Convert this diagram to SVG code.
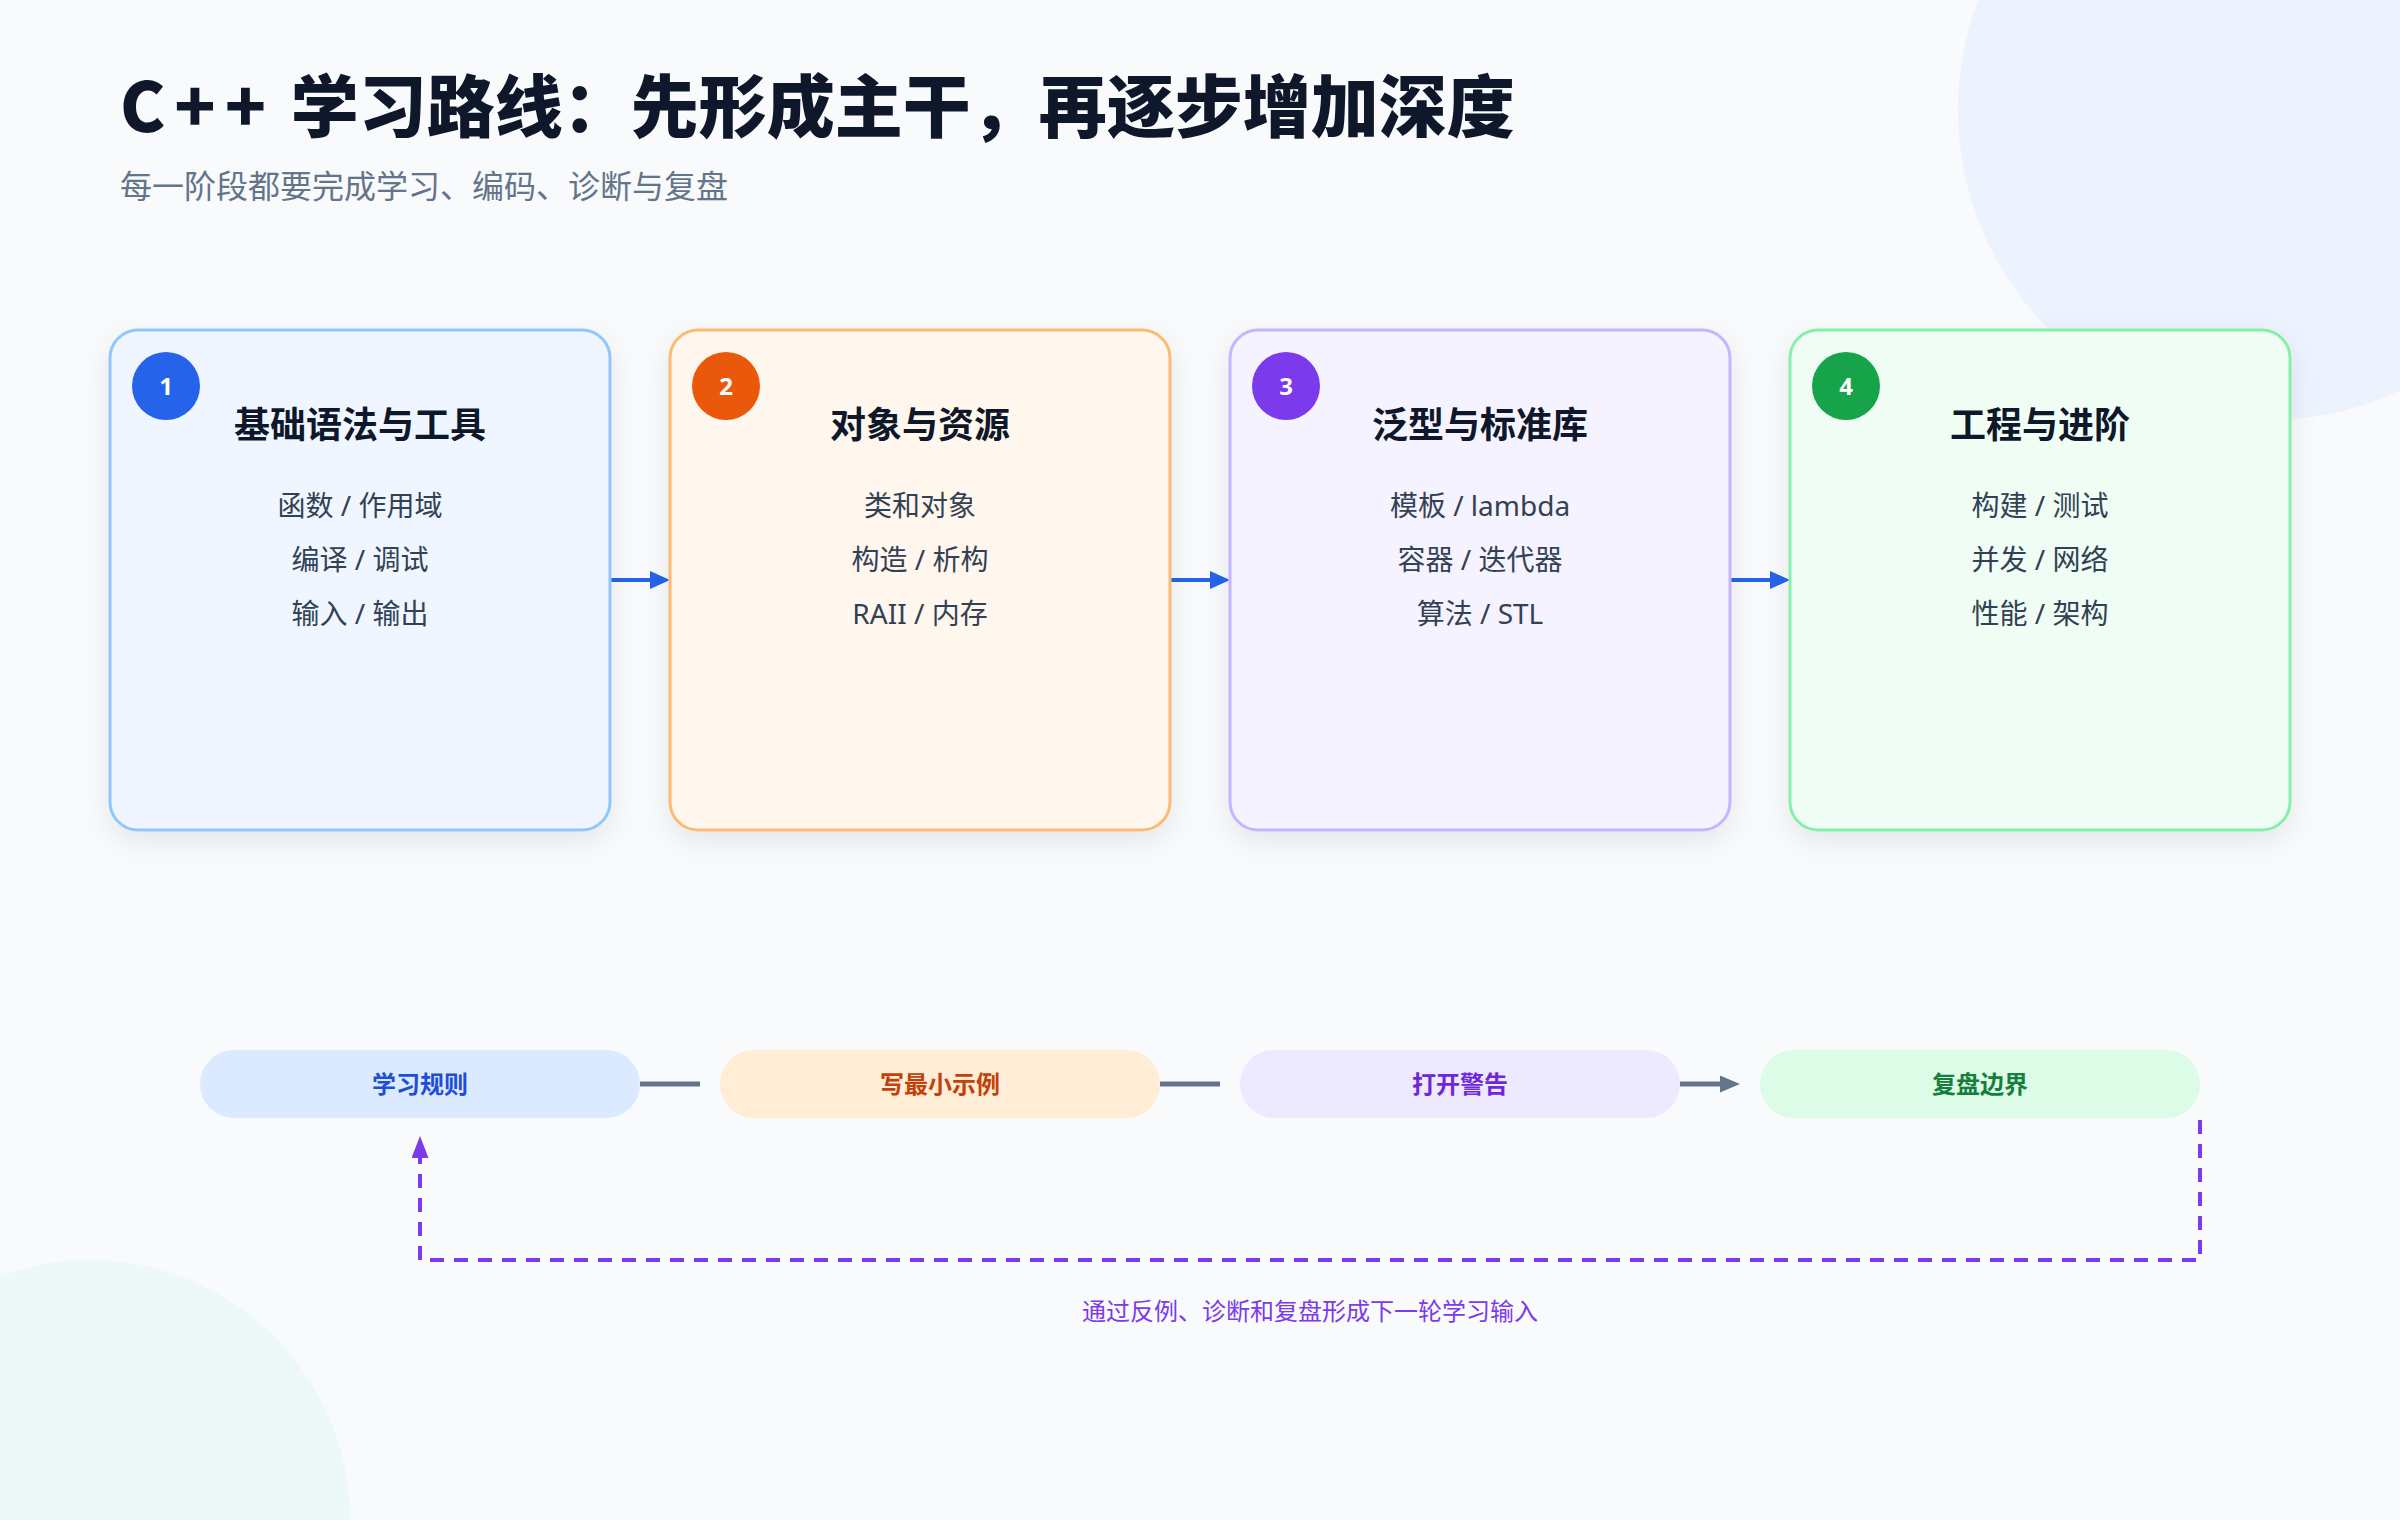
<svg xmlns="http://www.w3.org/2000/svg" width="2400" height="1520" viewBox="0 0 2400 1520">
  <defs>
    <style>
      text { font-family: "Noto Sans", "Noto Sans CJK SC", sans-serif; }
      .title { font-family: "Noto Sans CJK SC", "Noto Sans", sans-serif; font-size: 68px; font-weight: 900; fill: #0f172a; }
      .subtitle { font-size: 32px; fill: #64748b; }
      .card { stroke-width: 3; filter: url(#shadow); }
      .ctitle { font-size: 36px; font-weight: 700; fill: #0f172a; text-anchor: middle; }
      .cbody { font-size: 28px; fill: #334155; text-anchor: middle; }
      .badge-num { font-size: 24px; font-weight: 700; fill: #ffffff; text-anchor: middle; }
      .pill-text { font-size: 24px; font-weight: 700; text-anchor: middle; }
      .flow { stroke: #2563eb; stroke-width: 4; fill: none; }
      .link { stroke: #64748b; stroke-width: 5; fill: none; }
      .loop { stroke: #7c3aed; stroke-width: 4; fill: none; stroke-dasharray: 14 10; }
      .loop-label { font-size: 24px; fill: #7c3aed; text-anchor: middle; }
    </style>
    <filter id="shadow" x="-20%" y="-20%" width="140%" height="140%">
      <feDropShadow dx="0" dy="10" stdDeviation="14" flood-color="#0f172a" flood-opacity="0.08"/>
    </filter>
    <marker id="arrow-blue" markerUnits="userSpaceOnUse" markerWidth="20" markerHeight="18" refX="10" refY="9" orient="auto">
      <path d="M0,0 L20,9 L0,18 Z" fill="#2563eb"/>
    </marker>
    <marker id="arrow-gray" markerUnits="userSpaceOnUse" markerWidth="20" markerHeight="17" refX="10" refY="8.5" orient="auto">
      <path d="M0,0 L20,8.5 L0,17 Z" fill="#64748b"/>
    </marker>
    <marker id="arrow-purple" markerUnits="userSpaceOnUse" markerWidth="22" markerHeight="17" refX="10" refY="8.5" orient="auto">
      <path d="M0,0 L22,8.5 L0,17 Z" fill="#7c3aed"/>
    </marker>
  </defs>

  <!-- background -->
  <rect x="0" y="0" width="2400" height="1520" fill="#f8fafc"/>
  <circle cx="2268" cy="110" r="310" fill="#ecf3fe"/>
  <circle cx="90" cy="1520" r="260" fill="#ecf9f8"/>

  <!-- header -->
  <g id="header">
    <text class="title" x="120" y="132"><tspan letter-spacing="9">C++</tspan> 学习路线：先形成主干，再逐步增加深度</text>
    <text class="subtitle" x="120" y="198">每一阶段都要完成学习、编码、诊断与复盘</text>
  </g>

  <!-- connectors -->
  <g id="connectors">
    <line class="flow" x1="610" y1="580" x2="660" y2="580" marker-end="url(#arrow-blue)"/>
    <line class="flow" x1="1170" y1="580" x2="1220" y2="580" marker-end="url(#arrow-blue)"/>
    <line class="flow" x1="1730" y1="580" x2="1780" y2="580" marker-end="url(#arrow-blue)"/>
    <line class="link" x1="640" y1="1084" x2="700" y2="1084"/>
    <line class="link" x1="1160" y1="1084" x2="1220" y2="1084"/>
    <line class="link" x1="1680" y1="1084" x2="1730" y2="1084" marker-end="url(#arrow-gray)"/>
    <path class="loop" d="M2200,1120 V1260 H420 V1148" marker-end="url(#arrow-purple)"/>
    <text class="loop-label" x="1310" y="1320">通过反例、诊断和复盘形成下一轮学习输入</text>
  </g>

  <!-- stage cards -->
  <g id="stage-1">
    <rect class="card" x="110" y="330" width="500" height="500" rx="28" fill="#eff6ff" stroke="#93c5fd"/>
    <circle cx="166" cy="386" r="34" fill="#2563eb"/>
    <text class="badge-num" x="166" y="395">1</text>
    <text class="ctitle" x="360" y="438">基础语法与工具</text>
    <text class="cbody" x="360" y="516">函数 / 作用域</text>
    <text class="cbody" x="360" y="570">编译 / 调试</text>
    <text class="cbody" x="360" y="624">输入 / 输出</text>
  </g>
  <g id="stage-2">
    <rect class="card" x="670" y="330" width="500" height="500" rx="28" fill="#fff7ed" stroke="#fdba74"/>
    <circle cx="726" cy="386" r="34" fill="#ea580c"/>
    <text class="badge-num" x="726" y="395">2</text>
    <text class="ctitle" x="920" y="438">对象与资源</text>
    <text class="cbody" x="920" y="516">类和对象</text>
    <text class="cbody" x="920" y="570">构造 / 析构</text>
    <text class="cbody" x="920" y="624">RAII / 内存</text>
  </g>
  <g id="stage-3">
    <rect class="card" x="1230" y="330" width="500" height="500" rx="28" fill="#f5f3ff" stroke="#c4b5fd"/>
    <circle cx="1286" cy="386" r="34" fill="#7c3aed"/>
    <text class="badge-num" x="1286" y="395">3</text>
    <text class="ctitle" x="1480" y="438">泛型与标准库</text>
    <text class="cbody" x="1480" y="516">模板 / lambda</text>
    <text class="cbody" x="1480" y="570">容器 / 迭代器</text>
    <text class="cbody" x="1480" y="624">算法 / STL</text>
  </g>
  <g id="stage-4">
    <rect class="card" x="1790" y="330" width="500" height="500" rx="28" fill="#effdf4" stroke="#86efac"/>
    <circle cx="1846" cy="386" r="34" fill="#16a34a"/>
    <text class="badge-num" x="1846" y="395">4</text>
    <text class="ctitle" x="2040" y="438">工程与进阶</text>
    <text class="cbody" x="2040" y="516">构建 / 测试</text>
    <text class="cbody" x="2040" y="570">并发 / 网络</text>
    <text class="cbody" x="2040" y="624">性能 / 架构</text>
  </g>

  <!-- loop steps -->
  <g id="step-learn">
    <rect x="200" y="1050" width="440" height="68" rx="34" fill="#dbeafe"/>
    <text class="pill-text" x="420" y="1093" fill="#1d4ed8">学习规则</text>
  </g>
  <g id="step-example">
    <rect x="720" y="1050" width="440" height="68" rx="34" fill="#ffedd5"/>
    <text class="pill-text" x="940" y="1093" fill="#c2410c">写最小示例</text>
  </g>
  <g id="step-warnings">
    <rect x="1240" y="1050" width="440" height="68" rx="34" fill="#ede9fe"/>
    <text class="pill-text" x="1460" y="1093" fill="#6d28d9">打开警告</text>
  </g>
  <g id="step-review">
    <rect x="1760" y="1050" width="440" height="68" rx="34" fill="#dcfce7"/>
    <text class="pill-text" x="1980" y="1093" fill="#15803d">复盘边界</text>
  </g>
</svg>
